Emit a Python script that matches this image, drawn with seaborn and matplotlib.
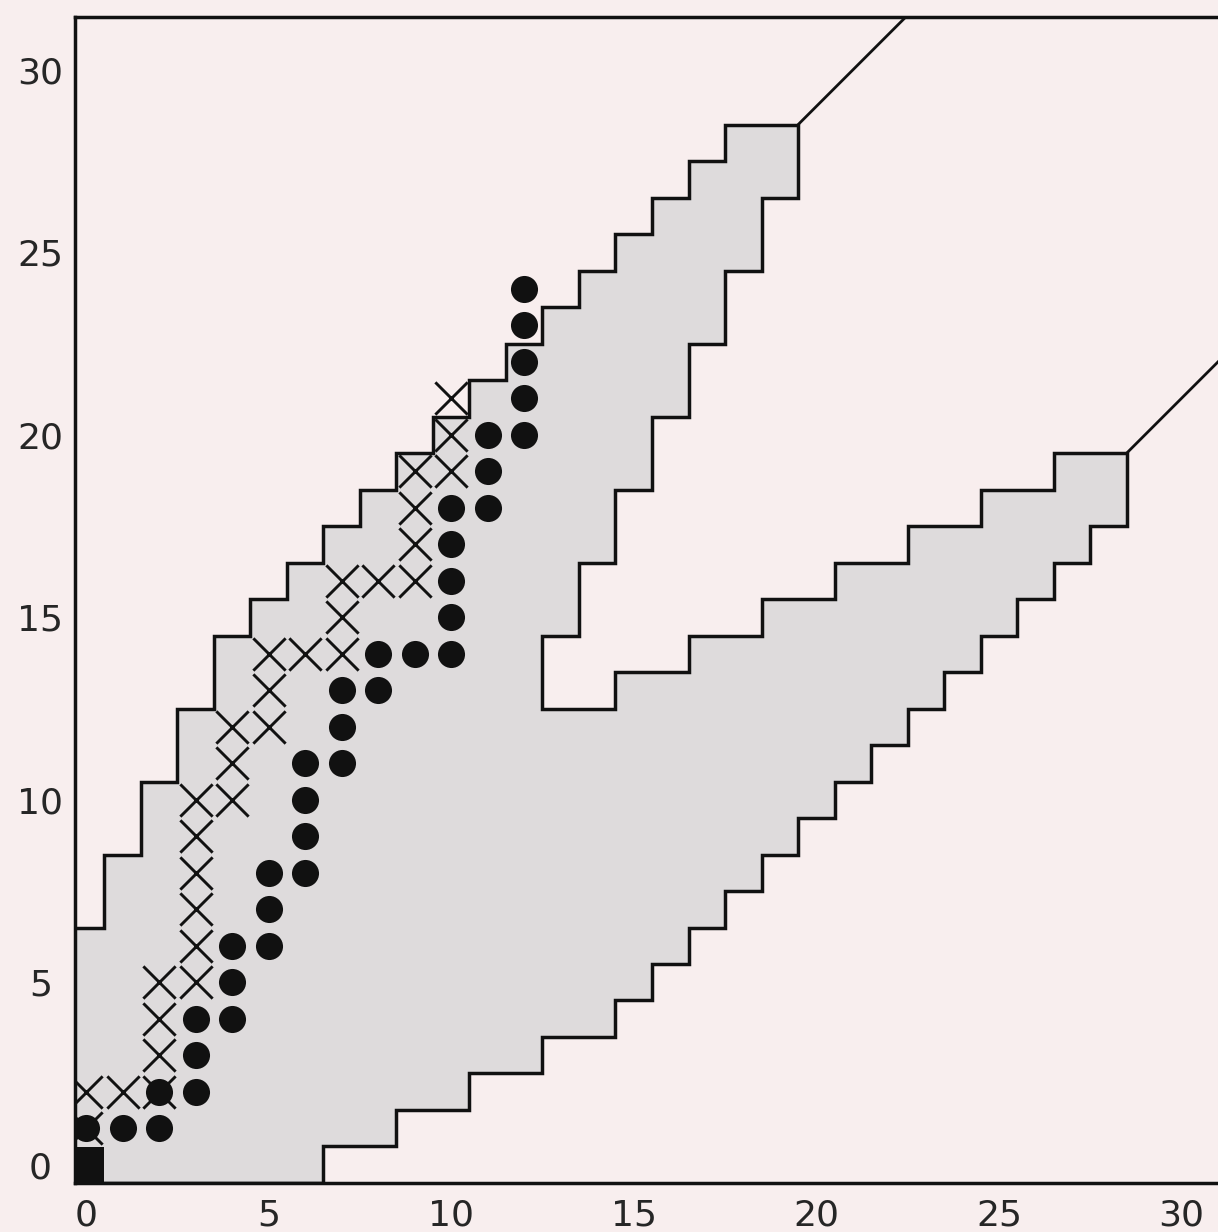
import seaborn as sns
import matplotlib.pyplot as plt
import pandas as pd

# Seaborn styling
sns.set_style("white")
plt.rcParams['font.family'] = ['DejaVu Sans']

# Filled dots (x, y)
dot_x = [0, 1, 2, 2, 3, 3, 3, 4, 4, 4, 5, 5, 5, 6, 6, 6, 6, 7, 7, 7, 8, 8, 9,
         10, 10, 10, 10, 10, 11, 11, 11, 12, 12, 12, 12, 12]
dot_y = [1, 1, 1, 2, 2, 3, 4, 4, 5, 6, 6, 7, 8, 8, 9, 10, 11, 11, 12, 13, 13, 14, 14,
         14, 15, 16, 17, 18, 18, 19, 20, 20, 21, 22, 23, 24]

# Crosses (x, y)
cross_x = [0, 0, 1, 2, 2, 2, 2, 3, 3, 3, 3, 3, 3, 4, 4, 4, 5, 5, 5, 6, 7, 7, 7,
           8, 9, 9, 9, 9, 10, 10, 10]
cross_y = [1, 2, 2, 2, 3, 4, 5, 5, 6, 7, 8, 9, 10, 10, 11, 12, 12, 13, 14, 14, 14, 15, 16,
           16, 16, 17, 18, 19, 19, 20, 21]

# Solid block at the origin
block_x = [0]
block_y = [0]

# Outline of the shaded region (cell edges)
region_x = [-0.5, -0.5, 0.5, 0.5, 1.5, 1.5, 2.5, 2.5, 3.5, 3.5, 4.5, 4.5, 5.5, 5.5,
            6.5, 6.5, 7.5, 7.5, 8.5, 8.5, 9.5, 9.5, 10.5, 10.5, 11.5, 11.5, 12.5, 12.5,
            13.5, 13.5, 14.5, 14.5, 15.5, 15.5, 16.5, 16.5, 17.5, 17.5, 19.5,
            19.5, 18.5, 18.5, 17.5, 17.5, 16.5, 16.5, 15.5, 15.5, 14.5, 14.5, 13.5, 13.5,
            12.5, 12.5, 14.5, 14.5, 16.5, 16.5, 18.5, 18.5, 20.5, 20.5, 22.5, 22.5,
            24.5, 24.5, 26.5, 26.5, 28.5,
            28.5, 27.5, 27.5, 26.5, 26.5, 25.5, 25.5, 24.5, 24.5, 23.5, 23.5, 22.5, 22.5,
            21.5, 21.5, 20.5, 20.5, 19.5, 19.5, 18.5, 18.5, 17.5, 17.5, 16.5, 16.5,
            15.5, 15.5, 14.5, 14.5, 12.5, 12.5, 10.5, 10.5, 8.5, 8.5, 6.5, 6.5]
region_y = [-0.5, 6.5, 6.5, 8.5, 8.5, 10.5, 10.5, 12.5, 12.5, 14.5, 14.5, 15.5, 15.5, 16.5,
            16.5, 17.5, 17.5, 18.5, 18.5, 19.5, 19.5, 20.5, 20.5, 21.5, 21.5, 22.5, 22.5, 23.5,
            23.5, 24.5, 24.5, 25.5, 25.5, 26.5, 26.5, 27.5, 27.5, 28.5, 28.5,
            26.5, 26.5, 24.5, 24.5, 22.5, 22.5, 20.5, 20.5, 18.5, 18.5, 16.5, 16.5, 14.5,
            14.5, 12.5, 12.5, 13.5, 13.5, 14.5, 14.5, 15.5, 15.5, 16.5, 16.5, 17.5,
            17.5, 18.5, 18.5, 19.5, 19.5,
            17.5, 17.5, 16.5, 16.5, 15.5, 15.5, 14.5, 14.5, 13.5, 13.5, 12.5, 12.5, 11.5,
            11.5, 10.5, 10.5, 9.5, 9.5, 8.5, 8.5, 7.5, 7.5, 6.5, 6.5, 5.5,
            5.5, 4.5, 4.5, 3.5, 3.5, 2.5, 2.5, 1.5, 1.5, 0.5, 0.5, -0.5]

# Straight extensions beyond the stepped bands
upper_line = pd.DataFrame({"x": [19.5, 23.5], "y": [28.5, 32.5]})
lower_line = pd.DataFrame({"x": [28.5, 32.5], "y": [19.5, 23.5]})

ticks = [0, 5, 10, 15, 20, 25, 30]

paper = "#f8eeee"
shade = "#dedbdc"
ink = "#111111"

fig = plt.figure(figsize=(12.18, 12.32), dpi=100, facecolor=paper)
ax = fig.add_axes([0.0616, 0.0398, 0.9384, 0.9464])
ax.set_facecolor(paper)

ax.fill(region_x, region_y, facecolor=shade, edgecolor=ink, linewidth=2.5, zorder=1)
sns.lineplot(data=upper_line, x="x", y="y", color=ink, linewidth=2.0, ax=ax, zorder=2)
sns.lineplot(data=lower_line, x="x", y="y", color=ink, linewidth=2.0, ax=ax, zorder=2)

sns.scatterplot(x=block_x, y=block_y, marker="s", s=700, color=ink, linewidth=0, ax=ax, zorder=3)
sns.scatterplot(x=dot_x, y=dot_y, marker="o", s=380, color=ink, linewidth=0, ax=ax, zorder=4)
sns.scatterplot(x=cross_x, y=cross_y, marker="x", s=540, color=ink, linewidth=2.1, ax=ax, zorder=5)

ax.set_xlim(-0.3, 31.0)
ax.set_ylim(-0.5, 31.45)
ax.set_xticks(ticks)
ax.set_yticks(ticks)
ax.set_xlabel("")
ax.set_ylabel("")
ax.tick_params(length=0, labelsize=26, labelcolor="#262626")
ax.tick_params(axis="x", pad=11)
ax.tick_params(axis="y", pad=25)
for lbl in ax.get_yticklabels():
    lbl.set_horizontalalignment("center")

for side in ["left", "top", "bottom"]:
    ax.spines[side].set_color(ink)
    ax.spines[side].set_linewidth(2.5)
ax.spines["right"].set_visible(False)

plt.savefig("out.png", dpi=100, facecolor=paper)
